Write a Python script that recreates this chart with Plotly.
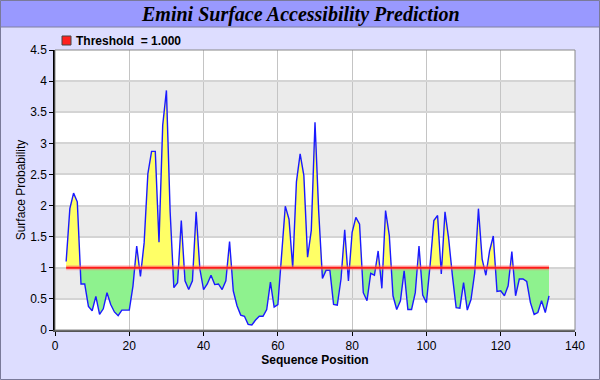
import plotly.graph_objects as go

positions = list(range(3, 134))
surface_prob = [
    1.10, 1.95, 2.20, 2.06, 0.74, 0.74, 0.38, 0.31, 0.54, 0.25,
    0.34, 0.60, 0.41, 0.29, 0.23, 0.32, 0.32, 0.32, 0.71, 1.35,
    0.86, 1.40, 2.51, 2.87, 2.87, 1.41, 3.29, 3.85, 1.90, 0.68,
    0.76, 1.76, 0.79, 0.65, 0.79, 1.90, 0.98, 0.65, 0.74, 0.88,
    0.73, 0.74, 0.65, 0.79, 1.42, 0.63, 0.39, 0.24, 0.22, 0.09,
    0.08, 0.16, 0.22, 0.22, 0.33, 0.77, 0.37, 0.41, 1.20, 1.99,
    1.78, 1.00, 2.38, 2.83, 2.48, 1.17, 1.60, 3.34, 1.90, 0.83,
    0.96, 0.96, 0.41, 0.40, 0.82, 1.61, 0.79, 1.57, 1.81, 1.70,
    0.60, 0.47, 0.91, 0.88, 1.27, 0.67, 1.92, 1.52, 0.55, 0.33,
    0.47, 0.95, 0.33, 0.33, 0.60, 1.35, 0.56, 0.44, 1.05, 1.76,
    1.84, 0.90, 1.90, 1.46, 0.87, 0.36, 0.35, 0.76, 0.32, 0.49,
    0.92, 1.95, 1.14, 0.88, 1.27, 1.51, 0.62, 0.63, 0.55, 0.71,
    1.26, 0.55, 0.82, 0.82, 0.78, 0.44, 0.25, 0.28, 0.47, 0.28,
    0.55,
]
threshold = 1.0
x_ticks = [0, 20, 40, 60, 80, 100, 120, 140]
y_ticks = [0, 0.5, 1, 1.5, 2, 2.5, 3, 3.5, 4, 4.5]
y_tick_labels = ["0", "0.5", "1", "1.5", "2", "2.5", "3", "3.5", "4", "4.5"]

# Build fill outlines split at threshold crossings (for area shading only)
fx, fy = [], []
for i in range(len(positions)):
    if i > 0:
        y0, y1 = surface_prob[i - 1], surface_prob[i]
        if (y0 - threshold) * (y1 - threshold) < 0:
            t = (threshold - y0) / (y1 - y0)
            fx.append(positions[i - 1] + t)
            fy.append(threshold)
    fx.append(positions[i])
    fy.append(surface_prob[i])
upper = [max(v, threshold) for v in fy]
lower = [min(v, threshold) for v in fy]
base = [threshold] * len(fx)

FONT = "Liberation Sans, Arial, sans-serif"

fig = go.Figure()
fig.add_trace(go.Scatter(x=fx, y=base, mode="lines", line=dict(width=0), hoverinfo="skip", showlegend=False))
fig.add_trace(go.Scatter(x=fx, y=upper, mode="lines", line=dict(width=0), fill="tonexty",
                         fillcolor="#ffff66", hoverinfo="skip", showlegend=False))
fig.add_trace(go.Scatter(x=fx, y=base, mode="lines", line=dict(width=0), hoverinfo="skip", showlegend=False))
fig.add_trace(go.Scatter(x=fx, y=lower, mode="lines", line=dict(width=0), fill="tonexty",
                         fillcolor="#8ef28e", hoverinfo="skip", showlegend=False))
fig.add_trace(go.Scatter(x=positions, y=surface_prob, mode="lines",
                         line=dict(color="#1a1aff", width=1.4), showlegend=False))
fig.add_trace(go.Scatter(x=[positions[0], positions[-1]], y=[threshold, threshold], mode="lines",
                         line=dict(color="rgba(255,120,120,0.45)", width=5), showlegend=False, hoverinfo="skip"))
fig.add_trace(go.Scatter(x=[positions[0], positions[-1]], y=[threshold, threshold], mode="lines",
                         line=dict(color="#ff1a1a", width=2), showlegend=False))

L, R, T, B = 55, 25, 50, 50
W, H = 600, 380
pw, ph = W - L - R, H - T - B

def px(x):
    return (x - L) / pw

def py(y):
    return (H - B - y) / ph

shapes = []
# alternating bands
for k in range(9):
    if k % 2 == 1:
        shapes.append(dict(type="rect", xref="paper", yref="y", x0=0, x1=1, y0=k * 0.5, y1=(k + 1) * 0.5,
                           fillcolor="#ebebeb", line=dict(width=0), layer="below"))
# title band
shapes.append(dict(type="rect", xref="paper", yref="paper", x0=px(0), x1=px(600), y0=py(27), y1=py(0),
                   fillcolor="#9999ff", line=dict(width=0), layer="below"))
shapes.append(dict(type="line", xref="paper", yref="paper", x0=px(0), x1=px(600), y0=py(27), y1=py(27),
                   line=dict(color="#8080a0", width=1)))
# outer border
shapes.append(dict(type="rect", xref="paper", yref="paper", x0=px(0.5), x1=px(599.5), y0=py(379.5), y1=py(0.5),
                   line=dict(color="#7a7a9a", width=1), fillcolor="rgba(0,0,0,0)"))
# legend swatch
shapes.append(dict(type="rect", xref="paper", yref="paper", x0=px(62), x1=px(71), y0=py(45), y1=py(36),
                   fillcolor="#ff2020", line=dict(color="#444444", width=1)))
# plot frame (top/right)
shapes.append(dict(type="rect", xref="paper", yref="paper", x0=0, x1=1, y0=0, y1=1,
                   line=dict(color="#888888", width=1), fillcolor="rgba(0,0,0,0)"))

fig.update_layout(
    width=W, height=H,
    margin=dict(l=L, r=R, t=T, b=B, autoexpand=False),
    paper_bgcolor="#ddddff",
    plot_bgcolor="#ffffff",
    shapes=shapes,
    font=dict(family=FONT, size=12, color="#000000"),
    annotations=[
        dict(text="Emini Surface Accessibility Prediction", xref="paper", yref="paper",
             x=px(300), y=py(14), xanchor="center", yanchor="middle", showarrow=False,
             font=dict(family="Liberation Serif, Times New Roman, serif", size=20, color="#000000",
                       style="italic", weight="bold")),
        dict(text="<b>Threshold  = 1.000</b>", xref="paper", yref="paper",
             x=px(74), y=py(41), xanchor="left", yanchor="middle", showarrow=False,
             font=dict(family=FONT, size=12, color="#000000")),
    ],
    xaxis=dict(range=[0, 140], tickvals=x_ticks, ticks="outside", ticklen=4, tickcolor="#000000",
               showgrid=True, gridcolor="#c4c4c4", gridwidth=1, zeroline=False, automargin=False,
               showline=True, linecolor="#555555", linewidth=2,
               title=dict(text="<b>Sequence Position</b>", font=dict(family=FONT, size=12), standoff=3),
               tickfont=dict(family=FONT, size=12)),
    yaxis=dict(range=[0, 4.5], tickvals=y_ticks, ticktext=y_tick_labels, ticks="outside", ticklen=4,
               tickcolor="#000000", showgrid=True, gridcolor="#d4d4d4", gridwidth=2, zeroline=False,
               showline=True, linecolor="#000000", linewidth=1.5, automargin=False,
               title=dict(text="Surface Probability", font=dict(family=FONT, size=12), standoff=2),
               tickfont=dict(family=FONT, size=12)),
)

fig.write_html("out.html", post_script="document.body.style.margin='0';",
               config={"displayModeBar": False})
